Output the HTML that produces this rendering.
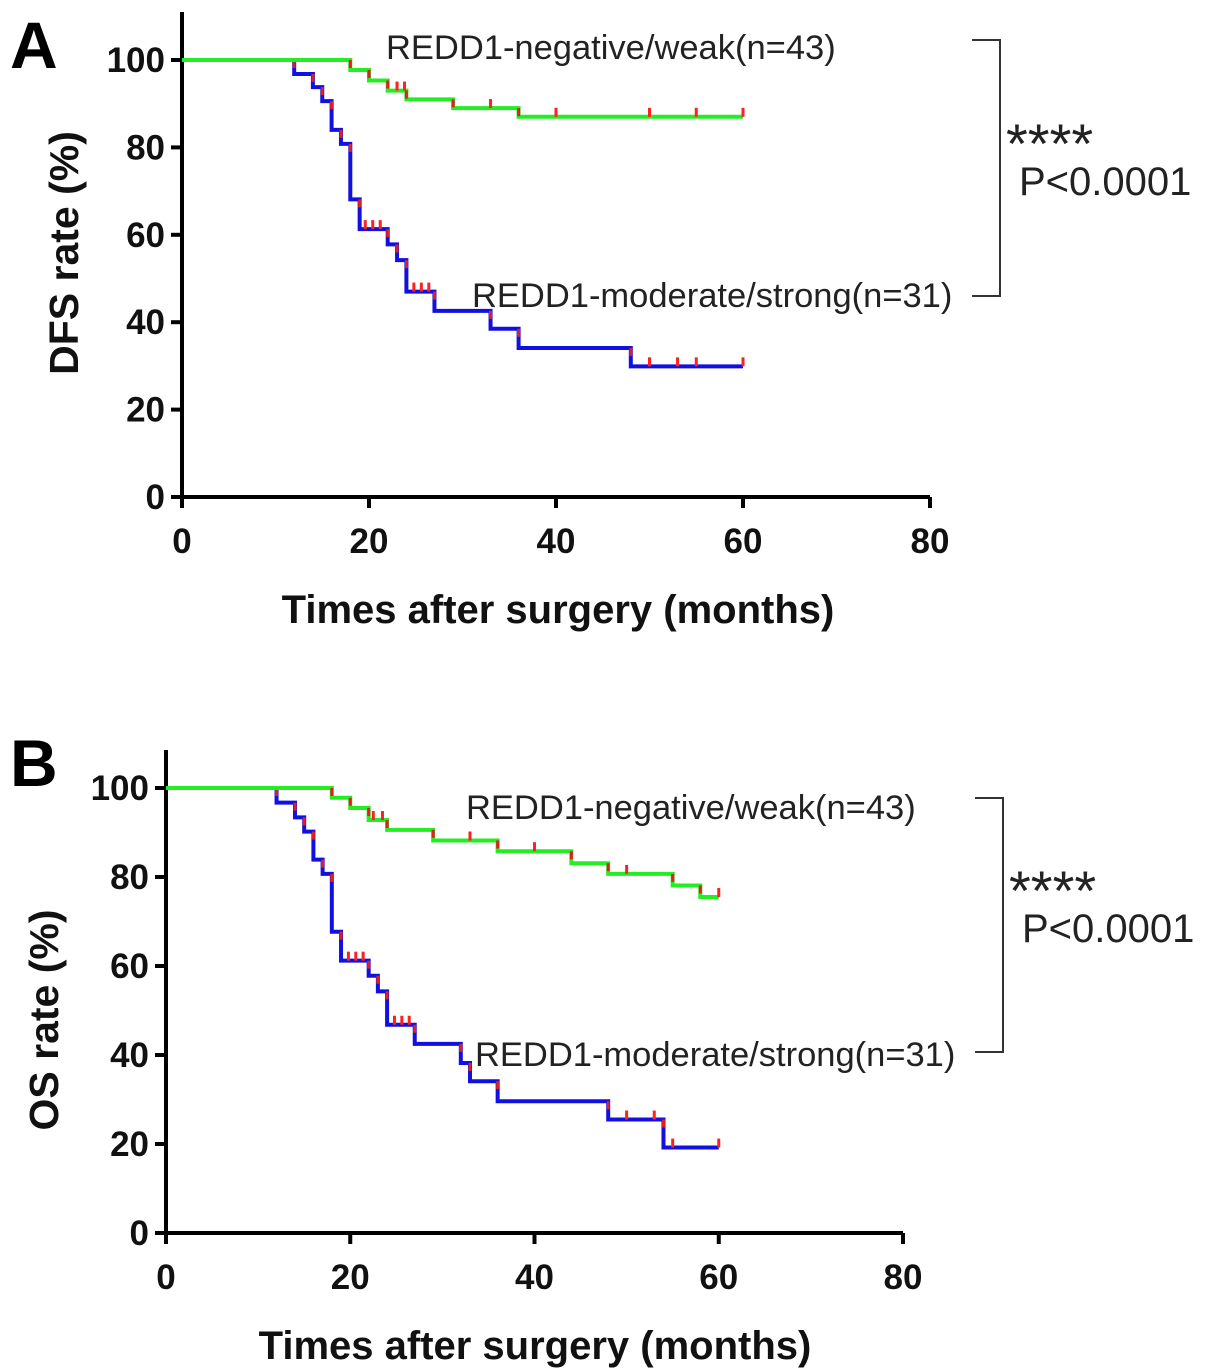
<!DOCTYPE html>
<html><head><meta charset="utf-8">
<style>
html,body{margin:0;padding:0;background:#fff;}
svg{display:block;font-family:"Liberation Sans",Arial,sans-serif;}
</style></head>
<body>
<svg id="fig" width="1205" height="1370" viewBox="0 0 1205 1370" xmlns="http://www.w3.org/2000/svg"></svg>
<script>
// ---- Panel A (DFS) data ----
const aLowTimes = [0, 18, 20, 22, 24, 29, 36, 60];
const aLowSurv = [100, 97.7, 95.3, 93.0, 91.0, 89.0, 87.0, 87.0];
const aLowCens = [23, 23.8, 33, 40, 50, 55, 60];
const aHighTimes = [0, 12, 14, 15, 16, 17, 18, 19, 22, 23, 24, 27, 33, 36, 48, 60];
const aHighSurv = [100, 96.8, 93.8, 90.6, 84.0, 80.8, 68.1, 61.3, 57.8, 54.2, 47.0, 42.6, 38.5, 34.1, 29.9, 29.9];
const aHighCens = [19.6, 20.4, 21.2, 24.8, 25.6, 26.4, 50, 53, 55, 60];
// ---- Panel B (OS) data ----
const bLowTimes = [0, 18, 20, 22, 24, 29, 36, 44, 48, 55, 58, 60];
const bLowSurv = [100, 97.8, 95.5, 92.8, 90.6, 88.2, 85.8, 83.1, 80.7, 78.1, 75.5, 75.5];
const bLowCens = [22.5, 23.5, 33, 40, 50, 60];
const bHighTimes = [0, 12, 14, 15, 16, 17, 18, 19, 22, 23, 24, 27, 32, 33, 36, 48, 54, 60];
const bHighSurv = [100, 96.7, 93.4, 90.2, 83.9, 80.7, 67.7, 61.2, 57.8, 54.3, 46.8, 42.5, 38.2, 34.1, 29.6, 25.5, 19.2, 19.2];
const bHighCens = [19.8, 20.6, 21.4, 24.8, 25.6, 26.4, 50, 53, 55, 60];
const xTicks = [0, 20, 40, 60, 80];
const yTicks = [0, 20, 40, 60, 80, 100];

const NS = "http://www.w3.org/2000/svg";
const svg = document.getElementById('fig');
function mk(tag, attrs, parent, text){
  const e = document.createElementNS(NS, tag);
  for (const k in attrs) e.setAttribute(k, attrs[k]);
  if (text !== undefined) e.textContent = text;
  (parent || svg).appendChild(e);
  return e;
}

function panel(cfg){
  const g = mk('g', {});
  
  
  const sx = v => cfg.x0 + (cfg.x1 - cfg.x0) * v / 80;
  const sy = v => cfg.y0 - (cfg.y0 - cfg.y100) * v / 100;
  const ax = mk('path', {d:`M${cfg.x0} ${cfg.top} V${cfg.y0} H${cfg.x1}`, fill:'none', stroke:'#000', 'stroke-width':4}, g);
  
  
  yTicks.forEach(t => {
    mk('line', {x1:cfg.x0-11, x2:cfg.x0, y1:sy(t), y2:sy(t), stroke:'#000', 'stroke-width':4}, g);
    const tl = mk('text', {x:cfg.x0-17, y:sy(t)+12, 'text-anchor':'end', 'font-size':35, 'font-weight':'bold', fill:'#111'}, g, t);
    
    
  });
  xTicks.forEach(t => {
    mk('line', {x1:sx(t), x2:sx(t), y1:cfg.y0, y2:cfg.y0+11, stroke:'#000', 'stroke-width':4}, g);
    const tl = mk('text', {x:sx(t), y:cfg.y0+56, 'text-anchor':'middle', 'font-size':35, 'font-weight':'bold', fill:'#111'}, g, t);
    
    
  });
  const xt = mk('text', {x:cfg.xtx, y:cfg.y0+126, 'text-anchor':'middle', 'font-size':40, 'font-weight':'bold', fill:'#111'}, g, 'Times after surgery (months)');
  
  
  const cy = cfg.ytc;
  const yt = mk('text', {x:cfg.ytx, y:cy, transform:`rotate(-90 ${cfg.ytx} ${cy})`, 'text-anchor':'middle', 'font-size':41, 'font-weight':'bold', fill:'#111'}, g, cfg.ytitle);
  
  
  const pl = mk('text', {x:10, y:cfg.letterY, 'font-size':66, 'font-weight':'bold', fill:'#000'}, g, cfg.letter);
  
  

  function curve(times, surv, cens, color, nm){
    let d = `M${sx(times[0])} ${sy(surv[0])}`;
    for (let i = 1; i < times.length; i++){
      d += ` H${sx(times[i])} V${sy(surv[i])}`;
    }
    const p = mk('path', {d, fill:'none', stroke:color, 'stroke-width':4}, g);
    
    
    for (let i = 1; i < times.length; i++){
      if (surv[i] < surv[i-1]){
        const r = mk('line', {x1:sx(times[i]), x2:sx(times[i]), y1:sy(surv[i-1]), y2:sy(surv[i-1])+8, stroke:'#e02020', 'stroke-width':3}, g);
        
        
      }
    }
    cens.forEach(c => {
      let s = surv[0];
      for (let i = 0; i < times.length; i++) if (times[i] <= c) s = surv[i];
      const m = mk('line', {x1:sx(c), x2:sx(c), y1:sy(s), y2:sy(s)-9, stroke:'#ff2020', 'stroke-width':3}, g);
      
      
    });
  }
  curve(cfg.hT, cfg.hS, cfg.hC, '#1010e0', 'high-redd1');
  curve(cfg.lT, cfg.lS, cfg.lC, '#22ee22', 'low-redd1');

  const l1 = mk('text', {x:cfg.lowLbl[0], y:cfg.lowLbl[1], 'font-size':34.5, fill:'#222'}, g, 'REDD1-negative/weak(n=43)');
  
  
  const l2 = mk('text', {x:cfg.highLbl[0], y:cfg.highLbl[1], 'font-size':34.5, fill:'#222'}, g, 'REDD1-moderate/strong(n=31)');
  
  
  const b = cfg.br;
  const br = mk('path', {d:`M${b.x} ${b.y1} H${b.x2} V${b.y2} H${b.x}`, fill:'none', stroke:'#333', 'stroke-width':2}, g);
  
  
  const st = mk('text', {x:b.x2+6, y:b.sy, 'font-size':56, fill:'#222'}, g, '****');
  
  
  const pv = mk('text', {x:b.x2+19, y:b.sy+32, 'font-size':40, fill:'#222'}, g, 'P<0.0001');
  
  
}

panel({name:'panel-a-dfs', letter:'A', letterY:68, x0:182, x1:930, y0:497, y100:60, top:12, ytx:78, ytc:253, xtx:558, ytitle:'DFS rate (%)',
  lT:aLowTimes, lS:aLowSurv, lC:aLowCens, hT:aHighTimes, hS:aHighSurv, hC:aHighCens,
  lowLbl:[386,59], highLbl:[472,307], br:{x:972, x2:1000, y1:40, y2:296, sy:163}});
panel({name:'panel-b-os', letter:'B', letterY:786, x0:166, x1:903, y0:1233, y100:788, top:750, ytx:58, ytc:1020, xtx:535, ytitle:'OS rate (%)',
  lT:bLowTimes, lS:bLowSurv, lC:bLowCens, hT:bHighTimes, hS:bHighSurv, hC:bHighCens,
  lowLbl:[466,819], highLbl:[475,1066], br:{x:975, x2:1003, y1:798, y2:1052, sy:910}});
</script>
</body></html>
